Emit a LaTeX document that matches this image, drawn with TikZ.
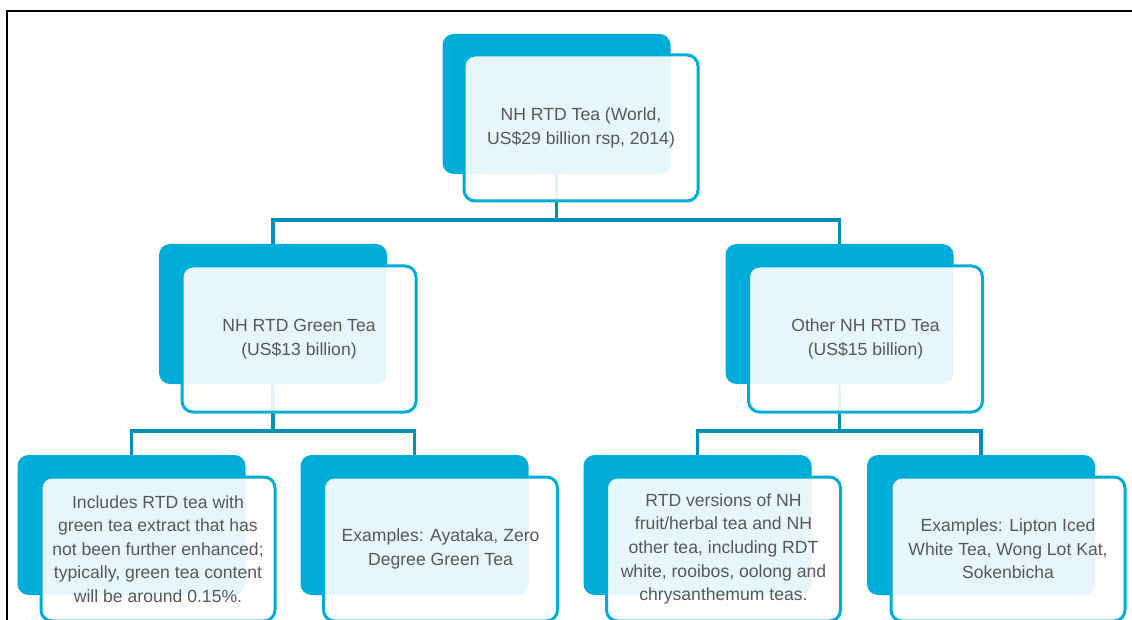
\documentclass[tikz,border=0pt]{standalone}
\usepackage{fontspec}
\setmainfont{Liberation Sans}
\begin{document}
\definecolor{tealback}{RGB}{0,173,216}
\definecolor{linkcol}{RGB}{0,144,182}
\definecolor{txt}{RGB}{88,88,88}
\begin{tikzpicture}[x=1pt,y=-1pt,
  backbox/.style={fill=tealback,rounded corners=11pt,inner sep=0pt,outer sep=0pt,
    minimum width=228pt,minimum height=140pt},
  frontbox/.style={draw=tealback,line width=3pt,fill=white,fill opacity=0.9,text opacity=1,
    rounded corners=11pt,inner sep=0pt,outer sep=0pt,minimum width=234pt,minimum height=146pt,
    align=center,text=txt,font=\fontsize{17.6}{23.6}\selectfont},
  lowfront/.style={frontbox,minimum height=144pt},
  link/.style={draw=linkcol,line width=3.5pt}]
\useasboundingbox (0,0) rectangle (1132,620);
% frame
\draw[line width=2.2pt] (7,620) -- (7,11) -- (1132,11);

% back panels
\node[backbox] (topb) at (556.5,104) {};
\node[backbox] (greenb) at (273,314) {};
\node[backbox] (otherb) at (839.5,314) {};
\node[backbox] (g1b) at (131.5,525) {};
\node[backbox] (g2b) at (414.5,525) {};
\node[backbox] (o1b) at (697.5,525) {};
\node[backbox] (o2b) at (981,525) {};

% connectors (drawn beneath the front panels)
\path (topb.south) ++(0,46) coordinate (j1);
\draw[link] (topb.south) -- (j1) -| (greenb.north);
\draw[link] (j1) -| (otherb.north);
\path (greenb.south) ++(0,47) coordinate (j2);
\draw[link] (greenb.south) -- (j2) -| (g1b.north);
\draw[link] (j2) -| (g2b.north);
\path (otherb.south) ++(0,47) coordinate (j3);
\draw[link] (otherb.south) -- (j3) -| (o1b.north);
\draw[link] (j3) -| (o2b.north);

% front panels with labels
\node[frontbox] (top) at (581,128) {NH RTD Tea (World,\\US\$29 billion rsp, 2014)};
\node[frontbox] (green) at (299,339) {NH RTD Green Tea\\(US\$13 billion)};
\node[frontbox] (other) at (865.5,339) {Other NH RTD Tea\\(US\$15 billion)};
\node[lowfront] (g1) at (158,549) {Includes RTD tea with\\green tea extract that has\\not been further enhanced;\\typically, green tea content\\will be around 0.15\%.};
\node[lowfront] (g2) at (440.5,549) {Examples: Ayataka, Zero\\Degree Green Tea};
\node[lowfront] (o1) at (723.5,549) {RTD versions of NH\\fruit/herbal tea and NH\\other tea, including RDT\\white, rooibos, oolong and\\chrysanthemum teas.};
\node[lowfront] (o2) at (1008,549) {Examples: Lipton Iced\\White Tea, Wong Lot Kat,\\Sokenbicha};
\end{tikzpicture}
\end{document}
